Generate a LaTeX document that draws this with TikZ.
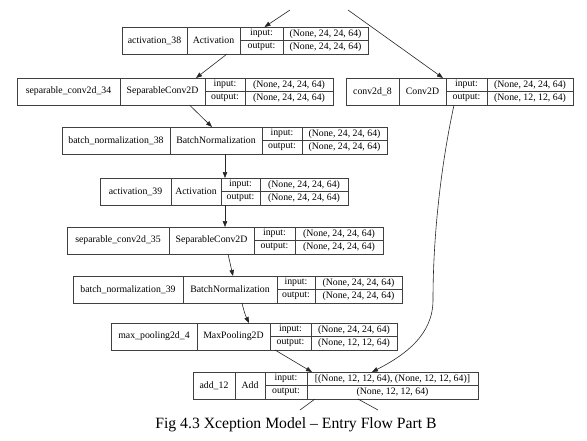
\documentclass[tikz,border=0pt]{standalone}
\usepackage{fontspec}
\setmainfont{Liberation Serif}
\usetikzlibrary{arrows.meta,positioning}
\tikzset{
  cell/.style={draw=black!75, line width=0.6pt, inner sep=0pt, outer sep=0pt, minimum height=27pt, font=\fontsize{9.8}{11}\selectfont},
  half/.style={cell, minimum height=13.5pt},
  arr/.style={-{Triangle[length=6pt,width=4.5pt]}, line width=0.6pt, black!85},
  lne/.style={line width=0.6pt, black!85},
}

\begin{document}
\begin{tikzpicture}[x=1pt, y=-1pt]
  \useasboundingbox (0,0) rectangle (587,440);

  %% layer records
  % activation_38
  \node[cell, minimum width=65, anchor=north west] (act38n) at (122,27) {activation\_38};
  \node[cell, minimum width=53, right=0pt of act38n] (act38t) {Activation};
  \node[half, minimum width=43, anchor=north west] (act38i) at (act38t.north east) {input:};
  \node[half, minimum width=85, right=0pt of act38i] (act38is) {(None, 24, 24, 64)};
  \node[half, minimum width=43, below=0pt of act38i] (act38o) {output:};
  \node[half, minimum width=85, below=0pt of act38is] (act38os) {(None, 24, 24, 64)};

  % separable_conv2d_34
  \node[cell, minimum width=103, anchor=north west] (sep34n) at (17,78) {separable\_conv2d\_34};
  \node[cell, minimum width=85, right=0pt of sep34n] (sep34t) {SeparableConv2D};
  \node[half, minimum width=40, anchor=north west] (sep34i) at (sep34t.north east) {input:};
  \node[half, minimum width=88, right=0pt of sep34i] (sep34is) {(None, 24, 24, 64)};
  \node[half, minimum width=40, below=0pt of sep34i] (sep34o) {output:};
  \node[half, minimum width=88, below=0pt of sep34is] (sep34os) {(None, 24, 24, 64)};

  % conv2d_8
  \node[cell, minimum width=53, anchor=north west] (cv8n) at (346,78) {conv2d\_8};
  \node[cell, minimum width=47, right=0pt of cv8n] (cv8t) {Conv2D};
  \node[half, minimum width=41, anchor=north west] (cv8i) at (cv8t.north east) {input:};
  \node[half, minimum width=86, right=0pt of cv8i] (cv8is) {(None, 24, 24, 64)};
  \node[half, minimum width=41, below=0pt of cv8i] (cv8o) {output:};
  \node[half, minimum width=86, below=0pt of cv8is] (cv8os) {(None, 12, 12, 64)};

  % batch_normalization_38
  \node[cell, minimum width=108, anchor=north west] (bn38n) at (62,127) {batch\_normalization\_38};
  \node[cell, minimum width=92, right=0pt of bn38n] (bn38t) {BatchNormalization};
  \node[half, minimum width=40, anchor=north west] (bn38i) at (bn38t.north east) {input:};
  \node[half, minimum width=85, right=0pt of bn38i] (bn38is) {(None, 24, 24, 64)};
  \node[half, minimum width=40, below=0pt of bn38i] (bn38o) {output:};
  \node[half, minimum width=85, below=0pt of bn38is] (bn38os) {(None, 24, 24, 64)};

  % activation_39
  \node[cell, minimum width=71, anchor=north west] (act39n) at (100,178) {activation\_39};
  \node[cell, minimum width=50, right=0pt of act39n] (act39t) {Activation};
  \node[half, minimum width=39, anchor=north west] (act39i) at (act39t.north east) {input:};
  \node[half, minimum width=88, right=0pt of act39i] (act39is) {(None, 24, 24, 64)};
  \node[half, minimum width=39, below=0pt of act39i] (act39o) {output:};
  \node[half, minimum width=88, below=0pt of act39is] (act39os) {(None, 24, 24, 64)};

  % separable_conv2d_35
  \node[cell, minimum width=102, anchor=north west] (sep35n) at (67,227) {separable\_conv2d\_35};
  \node[cell, minimum width=85, right=0pt of sep35n] (sep35t) {SeparableConv2D};
  \node[half, minimum width=41, anchor=north west] (sep35i) at (sep35t.north east) {input:};
  \node[half, minimum width=88, right=0pt of sep35i] (sep35is) {(None, 24, 24, 64)};
  \node[half, minimum width=41, below=0pt of sep35i] (sep35o) {output:};
  \node[half, minimum width=88, below=0pt of sep35is] (sep35os) {(None, 24, 24, 64)};

  % batch_normalization_39
  \node[cell, minimum width=110, anchor=north west] (bn39n) at (73,276) {batch\_normalization\_39};
  \node[cell, minimum width=94, right=0pt of bn39n] (bn39t) {BatchNormalization};
  \node[half, minimum width=38, anchor=north west] (bn39i) at (bn39t.north east) {input:};
  \node[half, minimum width=87, right=0pt of bn39i] (bn39is) {(None, 24, 24, 64)};
  \node[half, minimum width=38, below=0pt of bn39i] (bn39o) {output:};
  \node[half, minimum width=87, below=0pt of bn39is] (bn39os) {(None, 24, 24, 64)};

  % max_pooling2d_4
  \node[cell, minimum width=86, anchor=north west] (mp4n) at (111,323) {max\_pooling2d\_4};
  \node[cell, minimum width=73, right=0pt of mp4n] (mp4t) {MaxPooling2D};
  \node[half, minimum width=41, anchor=north west] (mp4i) at (mp4t.north east) {input:};
  \node[half, minimum width=86, right=0pt of mp4i] (mp4is) {(None, 24, 24, 64)};
  \node[half, minimum width=41, below=0pt of mp4i] (mp4o) {output:};
  \node[half, minimum width=86, below=0pt of mp4is] (mp4os) {(None, 12, 12, 64)};

  % add_12
  \node[cell, minimum width=42, anchor=north west] (add12n) at (193,372) {add\_12};
  \node[cell, minimum width=30, right=0pt of add12n] (add12t) {Add};
  \node[half, minimum width=42, anchor=north west] (add12i) at (add12t.north east) {input:};
  \node[half, minimum width=171, right=0pt of add12i] (add12is) {[(None, 12, 12, 64), (None, 12, 12, 64)]};
  \node[half, minimum width=42, below=0pt of add12i] (add12o) {output:};
  \node[half, minimum width=171, below=0pt of add12is] (add12os) {(None, 12, 12, 64)};

  % caption
  \node[anchor=base, font=\fontsize{15.7}{18}\selectfont] (cap) at (296,428) {Fig 4.3 Xception Model -- Entry Flow Part B};

  %% connectors
  \coordinate (inA) at (290,10);
  \coordinate (inB) at (348,10);
  \coordinate (outA) at (300,410);
  \coordinate (outB) at (378,410);

  \draw[arr] (inA) -- ([xshift=3]act38i.north);
  \draw[arr] (inB) -- ([xshift=-3]cv8i.north west);
  \draw[arr] ([xshift=13.5]act38t.south) -- ([xshift=-9]sep34t.north east);
  \draw[arr] ([xshift=27]sep34t.south) -- ([xshift=-4]bn38t.north);
  \draw[arr] ([xshift=9]bn38t.south) -- ([xshift=4]act39i.north west);
  \draw[arr] ([xshift=4]act39o.south west) -- ([xshift=13.5]sep35t.north);
  \draw[arr] ([xshift=16.5]sep35t.south) -- ([xshift=3]bn39t.north);
  \draw[arr] ([xshift=12]bn39t.south) to[bend right=6] ([xshift=15.5]mp4t.north);
  \draw[arr] ([xshift=5]mp4o.south west) -- ([xshift=5]add12is.north west);
  \draw[arr] ([xshift=8]cv8o.south west) .. controls (440,170) and (433,240) .. (433,300)
    .. controls (433,335) and (405,355) .. ([xshift=65]add12is.north west);
  \draw[lne] ([xshift=8]add12os.south west) -- (outA);
  \draw[lne] ([xshift=51]add12os.south west) -- (outB);
\end{tikzpicture}
\end{document}
